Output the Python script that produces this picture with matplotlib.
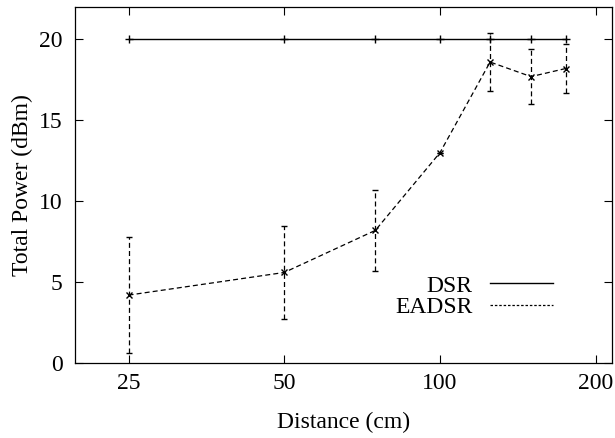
import matplotlib
matplotlib.use('Agg')
import matplotlib.pyplot as plt
from matplotlib.lines import Line2D
from matplotlib.ticker import FixedLocator, NullLocator, FixedFormatter

plt.rcParams['font.family'] = ['Liberation Serif', 'DejaVu Serif']

# data
distance = [25, 50, 75, 100, 125, 150, 175]
dsr_power = [20, 20, 20, 20, 20, 20, 20]
eadsr_power = [4.2, 5.6, 8.2, 13.0, 18.6, 17.7, 18.2]
eadsr_err = [3.6, 2.9, 2.5, 0.0, 1.8, 1.7, 1.5]
xticks = [25, 50, 100, 200]
yticks = [0, 5, 10, 15, 20]

fs = 17

fig = plt.figure(figsize=(6.15, 4.38), dpi=100)
ax = fig.add_axes([0.122, 0.171, 0.873, 0.813])

ax.plot(distance, dsr_power, color='black', lw=1.0, marker='+', ms=6, mew=1.0, label='DSR')
line, caps, bars = ax.errorbar(distance, eadsr_power, yerr=eadsr_err, color='black', lw=0.9,
                               ls=(0, (4, 2.5)), marker='x', ms=5, mew=1.0,
                               capsize=2.5, capthick=0.9, elinewidth=0.9, label='EADSR')
for b in bars:
    b.set_linestyle((0, (4, 2.5)))

ax.set_xscale('log')
ax.set_xlim(19.7, 215)
ax.set_ylim(0, 22)
ax.xaxis.set_major_locator(FixedLocator(xticks))
ax.xaxis.set_major_formatter(FixedFormatter([str(t) for t in xticks]))
ax.xaxis.set_minor_locator(NullLocator())
ax.set_yticks(yticks)
ax.tick_params(direction='in', top=True, right=True, length=6, width=0.8, labelsize=fs)
ax.tick_params(axis='x', pad=7)
ax.tick_params(axis='y', pad=9)

ax.set_xlabel('Distance (cm)', fontsize=fs, labelpad=13)
ax.set_ylabel('Total Power (dBm)', fontsize=fs, labelpad=4)
for s in ax.spines.values():
    s.set_linewidth(0.9)

h = [Line2D([], [], color='black', lw=1.0),
     Line2D([], [], color='black', lw=0.9, ls=(0, (2, 1.5)))]
ax.legend(h, ['DSR', 'EADSR'], loc='upper right', bbox_to_anchor=(0.89, 0.247), frameon=False,
          markerfirst=False, handlelength=2.67, fontsize=fs, labelspacing=0.0,
          handletextpad=0.72, borderpad=0, borderaxespad=0)

fig.savefig('out.png', dpi=100)
